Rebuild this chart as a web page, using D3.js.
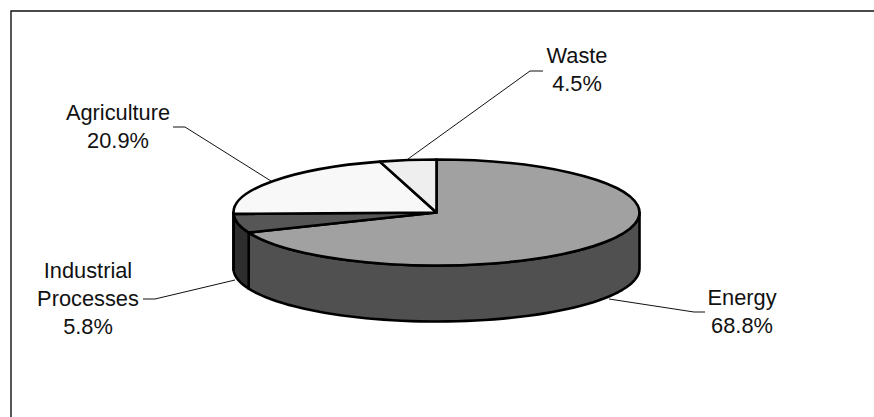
<!DOCTYPE html>
<html>
<head>
<meta charset="utf-8">
<script src="https://cdn.jsdelivr.net/npm/d3@7/dist/d3.min.js"></script>
<style>
html, body { margin: 0; padding: 0; background: #fff; }
svg { display: block; }
text { font-family: "Liberation Sans", Arial, sans-serif; font-size: 21.8px; fill: #111; }
</style>
</head>
<body>
<svg id="chart" width="874" height="417"></svg>
<script>
// Greenhouse gas emissions by sector, as an extruded pie
const sectors = ["Energy", "Industrial Processes", "Agriculture", "Waste"];
const shares = [68.8, 5.8, 20.9, 4.5];
const topColors = ["#a1a1a1", "#565656", "#f8f8f8", "#eeeeee"];
const sideColors = ["#505050", "#2e2e2e", "#f8f8f8", "#eeeeee"];
const labelLines = [["Energy"], ["Industrial", "Processes"], ["Agriculture"], ["Waste"]];

const W = 874, H = 417;
const cx = 436.5, cy = 212.5, rx = 203, ry = 53, depth = 56;
const strokeW = 2.6;

const svg = d3.select("#chart");

// Outer frame, running off the right and bottom edges
svg.append("path")
  .attr("d", `M11,${H + 2}V11H${W + 2}`)
  .attr("fill", "none").attr("stroke", "#111").attr("stroke-width", 1.4);

const pie = d3.pie().sort(null).value(d => d)(shares);

// Map a pie angle on the flat disc to screen coordinates
const ex = a => cx + rx * Math.sin(a);
const ey = (a, dy = 0) => cy - ry * Math.cos(a) + dy;

// Side wall for the part of a slice that faces the viewer
function wall(a0, a1) {
  const from = Math.max(a0, Math.PI / 2), to = Math.min(a1, Math.PI * 1.5);
  if (to <= from) return null;
  const angles = d3.range(0, 61).map(i => from + (to - from) * i / 60);
  const pts = angles.map(a => [ex(a), ey(a, depth)])
    .concat(angles.slice().reverse().map(a => [ex(a), ey(a)]));
  return d3.line()(pts) + "Z";
}

svg.append("g").selectAll("path").data(pie).join("path")
  .attr("d", d => wall(d.startAngle, d.endAngle))
  .attr("fill", d => sideColors[d.index])
  .attr("stroke", "#000").attr("stroke-width", strokeW).attr("stroke-linejoin", "round");

// Top face: a circular arc squashed into an ellipse
const arc = d3.arc().innerRadius(0).outerRadius(rx);
svg.append("g")
  .attr("transform", `translate(${cx},${cy}) scale(1,${ry / rx})`)
  .selectAll("path").data(pie).join("path")
  .attr("d", arc)
  .attr("fill", d => topColors[d.index])
  .attr("stroke", "#000").attr("stroke-width", strokeW)
  .attr("stroke-linejoin", "round")
  .attr("vector-effect", "non-scaling-stroke");

// Leader lines from the rim out to each label
const leaders = [
  [[609, 299], [694, 312], [705, 312]],
  [[235, 280], [155, 299], [143, 299]],
  [[271, 181], [185, 127], [173, 127]],
  [[408, 159], [530, 71], [543, 71]]
];
svg.append("g").selectAll("path").data(leaders).join("path")
  .attr("d", d => d3.line()(d))
  .attr("fill", "none").attr("stroke", "#111").attr("stroke-width", 1);

// Labels: sector name lines followed by the share
const labelPos = [[742, 305], [88, 278], [118, 120], [577, 63]];
const lineH = 28;
labelPos.forEach(([x, y], i) => {
  const t = svg.append("text").attr("text-anchor", "middle");
  const lines = labelLines[i].concat(d3.format(".1f")(shares[i]) + "%");
  lines.forEach((s, j) => t.append("tspan").attr("x", x).attr("y", y + j * lineH).text(s));
});
</script>
</body>
</html>
